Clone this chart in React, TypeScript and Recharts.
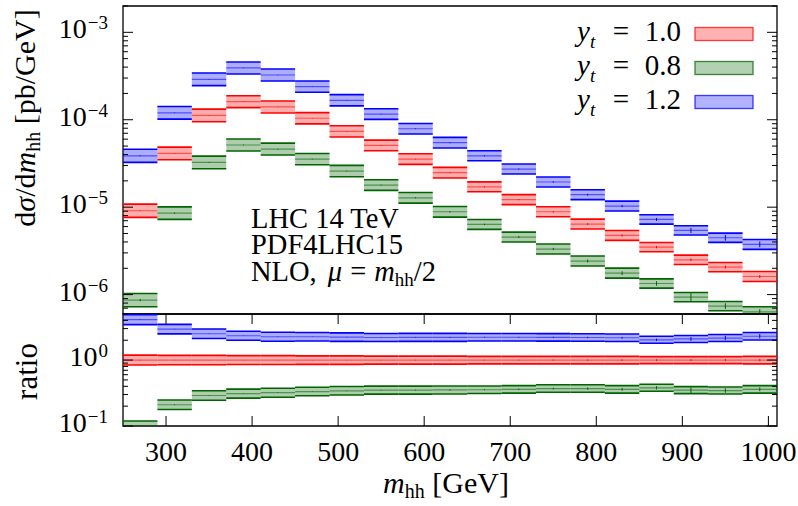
import React from 'react';
import { ComposedChart, Bar, XAxis, YAxis, ReferenceArea, Legend } from 'recharts';

// m_hh bin edges [GeV]
const binEdges = [250, 290, 330, 370, 410, 450, 490, 530, 570, 610, 650, 690, 730, 770, 810, 850, 890, 930, 970, 1010];

// dsigma/dm_hh [pb/GeV], central values
const sigmaYt10 = [9.1e-6, 4.12e-5, 1.12e-4, 1.61e-4, 1.40e-4, 1.04e-4, 7.36e-5, 5.09e-5, 3.55e-5, 2.48e-5, 1.71e-5, 1.22e-5, 8.86e-6, 6.41e-6, 4.75e-6, 3.49e-6, 2.50e-6, 2.06e-6, 1.61e-6];
const sigmaYt08 = [8.65e-7, 8.55e-6, 3.25e-5, 5.14e-5, 4.62e-5, 3.55e-5, 2.59e-5, 1.79e-5, 1.28e-5, 8.86e-6, 6.35e-6, 4.55e-6, 3.32e-6, 2.42e-6, 1.76e-6, 1.34e-6, 9.36e-7, 7.38e-7, 6.36e-7];
const sigmaYt12 = [3.87e-5, 1.20e-4, 2.90e-4, 3.91e-4, 3.25e-4, 2.39e-4, 1.67e-4, 1.16e-4, 7.89e-5, 5.46e-5, 3.87e-5, 2.73e-5, 1.94e-5, 1.39e-5, 1.03e-5, 7.24e-6, 5.42e-6, 4.47e-6, 3.75e-6];

// ratio to y_t = 1.0
const ratioYt10 = [1, 1, 1, 1, 1, 1, 1, 1, 1, 1, 1, 1, 1, 1, 1, 1, 1, 1, 1];
const ratioYt08 = [0.1, 0.21, 0.29, 0.31, 0.32, 0.333, 0.342, 0.35, 0.35, 0.352, 0.355, 0.36, 0.37, 0.37, 0.36, 0.38, 0.35, 0.345, 0.36];
const ratioYt12 = [4.1, 2.95, 2.51, 2.34, 2.26, 2.26, 2.23, 2.2, 2.21, 2.21, 2.22, 2.22, 2.21, 2.2, 2.18, 2.03, 2.09, 2.16, 2.3];

// relative scale uncertainty (band half width) per bin
const scaleUnc = [0.19, 0.18, 0.18, 0.17, 0.17, 0.16, 0.16, 0.15, 0.15, 0.15, 0.14, 0.14, 0.14, 0.14, 0.14, 0.13, 0.13, 0.13, 0.14];

// relative statistical errors per bin
const statYt10 = [0.01, 0.008, 0.006, 0.006, 0.006, 0.006, 0.007, 0.008, 0.01, 0.012, 0.015, 0.015, 0.02, 0.025, 0.03, 0.03, 0.035, 0.04, 0.04];
const statYt08 = [0.03, 0.015, 0.01, 0.01, 0.01, 0.01, 0.01, 0.012, 0.015, 0.02, 0.02, 0.025, 0.03, 0.04, 0.05, 0.06, 0.11, 0.08, 0.07];
const statYt12 = [0.01, 0.008, 0.006, 0.006, 0.006, 0.006, 0.007, 0.008, 0.01, 0.012, 0.015, 0.015, 0.02, 0.025, 0.03, 0.04, 0.07, 0.08, 0.08];

const xTicks = [300, 400, 500, 600, 700, 800, 900, 1000];
const topTicks = [6e-7, 7e-7, 8e-7, 9e-7, 1e-6, 2e-6, 3e-6, 4e-6, 5e-6, 6e-6, 7e-6, 8e-6, 9e-6, 1e-5, 2e-5, 3e-5, 4e-5, 5e-5, 6e-5, 7e-5, 8e-5, 9e-5, 1e-4, 2e-4, 3e-4, 4e-4, 5e-4, 6e-4, 7e-4, 8e-4, 9e-4, 1e-3, 2e-3];
const ratioTicks = [0.1, 0.2, 0.3, 0.4, 0.5, 0.6, 0.7, 0.8, 0.9, 1, 2, 3, 4, 5];
const topDomain = [6e-7, 2e-3];
const ratioDomain = [0.1, 5];
const xDomain = [binEdges[0], binEdges[binEdges.length - 1]];

const series = [
  { key: 'yt10', label: '1.0', color: '#ff0000', sigma: sigmaYt10, ratio: ratioYt10, stat: statYt10 },
  { key: 'yt08', label: '0.8', color: '#006400', sigma: sigmaYt08, ratio: ratioYt08, stat: statYt08 },
  { key: 'yt12', label: '1.2', color: '#0000ff', sigma: sigmaYt12, ratio: ratioYt12, stat: statYt12 },
];

const FONT = "'Liberation Serif', 'Times New Roman', serif";
const W = 798;
const PLOT_L = 123;
const PLOT_R = 777;
const TOP_H = 316;
const BOT_TOP = 312;
const BOT_H = 194;
const X_AXIS_H = 80;
const BOT_MT = 2;
const BOT_PLOT_BOTTOM = BOT_H - X_AXIS_H;
const BIN_W = (PLOT_R - PLOT_L) / (binEdges.length - 1) - 0.02;

const buildRows = (pick: (s: typeof series[number]) => number[]) =>
  binEdges.slice(0, -1).map((lo, i) => {
    const row: any = { mid: (lo + binEdges[i + 1]) / 2, unc: scaleUnc[i] };
    series.forEach(s => {
      row[s.key] = pick(s)[i];
      row[s.key + 'Stat'] = s.stat[i];
    });
    return row;
  });

const topData = buildRows(s => s.sigma);
const ratioData = buildRows(s => s.ratio);

const isPow10 = (v: number) => Math.abs(Math.log10(v) - Math.round(Math.log10(v))) < 1e-9;
const expLabel = (v: number) => {
  const e = Math.round(Math.log10(v));
  return e < 0 ? `\u2212${-e}` : `${e}`;
};

// inward ticks on both sides, label only at powers of ten
const LogTick = (props: any) => {
  const y = props.payload?.coordinate ?? props.y;
  const v = props.payload.value;
  const major = isPow10(v);
  const len = major ? 10 : 5;
  return (
    <g>
      <line x1={PLOT_L} x2={PLOT_L + len} y1={y} y2={y} stroke="#000" strokeWidth={1} />
      <line x1={PLOT_R - len} x2={PLOT_R} y1={y} y2={y} stroke="#000" strokeWidth={1} />
      {major && (
        <text x={108} y={y + 6} textAnchor="end" fontFamily={FONT} fontSize={28} fill="#000">
          10<tspan dx={1} dy={-9} fontSize={19}>{expLabel(v)}</tspan>
        </text>
      )}
    </g>
  );
};

const XTick = (props: any) => {
  const x = props.payload?.coordinate ?? props.x;
  return (
    <g>
      <line x1={x} x2={x} y1={BOT_PLOT_BOTTOM} y2={BOT_PLOT_BOTTOM - 10} stroke="#000" strokeWidth={1} />
      <line x1={x} x2={x} y1={BOT_MT} y2={BOT_MT + 10} stroke="#000" strokeWidth={1} />
      <text x={x} y={BOT_PLOT_BOTTOM + 35} textAnchor="middle" fontFamily={FONT} fontSize={28} fill="#000">
        {props.payload.value}
      </text>
    </g>
  );
};

// band with edge lines, central line and stat error tick
const binShape = (color: string, key: string) => (p: any) => {
  const { x, y, width, height, payload } = p;
  if (height == null || !isFinite(y)) return <g />;
  const u = payload.unc;
  const s = payload[key + 'Stat'];
  const half = height / 2;
  const cy = y + half;
  const sPx = (half * Math.log(1 + s)) / Math.log(1 + u);
  const cx = x + width / 2;
  return (
    <g>
      <rect x={x} y={y} width={width} height={height} fill={color} fillOpacity={0.32} />
      <line x1={x} x2={x + width} y1={y} y2={y} stroke={color} strokeWidth={1.6} />
      <line x1={x} x2={x + width} y1={y + height} y2={y + height} stroke={color} strokeWidth={1.6} />
      <line x1={x} x2={x + width} y1={cy} y2={cy} stroke={color} strokeOpacity={0.55} strokeWidth={1.2} />
      <line x1={cx} x2={cx} y1={cy - sPx} y2={cy + sPx} stroke={color} strokeWidth={1} />
    </g>
  );
};

const LegendBox = () => (
  <svg width={W} height={120} style={{ display: 'block' }}>
    {series.map((s, i) => {
      const base = 40.5 + 34 * i;
      return (
        <g key={s.key} fontFamily={FONT} fill="#000">
          <text x={577} y={base} fontSize={29} fontStyle="italic">y</text>
          <text x={590} y={base + 7} fontSize={19} fontStyle="italic">t</text>
          <text x={621} y={base} fontSize={29} textAnchor="middle">=</text>
          <text x={681} y={base} fontSize={29} textAnchor="end">{s.label}</text>
          <rect x={695} y={base - 13} width={58} height={13} fill={s.color} fillOpacity={0.3}
            stroke={s.color} strokeOpacity={0.75} strokeWidth={1.3} />
        </g>
      );
    })}
  </svg>
);

// one numeric x axis per series so the bands overlay instead of sitting side by side
const xAxes = (showTicks: boolean) =>
  series.map((s, i) =>
    showTicks && i === 0 ? (
      <XAxis
        key={s.key}
        xAxisId={`x${s.key}`}
        dataKey="mid"
        type="number"
        domain={xDomain}
        allowDataOverflow
        ticks={xTicks}
        interval={0}
        height={X_AXIS_H}
        axisLine={false}
        tickLine={false}
        tick={XTick}
        label={{
          content: () => (
            <text x={446} y={181} textAnchor="middle" fontFamily={FONT} fontSize={30} fill="#000">
              <tspan fontStyle="italic">m</tspan>
              <tspan fontSize={20} dy={5}>hh</tspan>
              <tspan dy={-5}> [GeV]</tspan>
            </text>
          ),
        }}
      />
    ) : (
      <XAxis key={s.key} xAxisId={`x${s.key}`} dataKey="mid" type="number" domain={xDomain} allowDataOverflow hide />
    )
  );

const bars = (chart: string) =>
  series.map(s => (
    <Bar
      key={chart + s.key}
      xAxisId={`x${s.key}`}
      yAxisId="y"
      dataKey={(d: any) => [d[s.key] / (1 + d.unc), d[s.key] * (1 + d.unc)]}
      shape={binShape(s.color, s.key)}
      barSize={BIN_W}
      isAnimationActive={false}
    />
  ));

const frame = (yDomain: number[]) => (
  <ReferenceArea xAxisId={`x${series[0].key}`} yAxisId="y" x1={xDomain[0]} x2={xDomain[1]}
    y1={yDomain[0]} y2={yDomain[1]} fill="none" fillOpacity={0} stroke="#000" strokeWidth={1.3} ifOverflow="visible" />
);

export default function App() {
  return (
    <div style={{ position: 'absolute', left: 0, top: 0, width: W, height: 506, background: '#fff', fontFamily: FONT }}>
      <div style={{ position: 'absolute', left: 0, top: 0 }}>
        <ComposedChart width={W} height={TOP_H} data={topData} margin={{ top: 6, right: W - PLOT_R, bottom: 2, left: 0 }}
          barCategoryGap={0} barGap={0}>
          {xAxes(false)}
          <YAxis
            yAxisId="y"
            type="number"
            scale="log"
            domain={topDomain}
            allowDataOverflow
            ticks={topTicks}
            interval={0}
            width={PLOT_L}
            axisLine={false}
            tickLine={false}
            tick={LogTick}
            label={{
              content: () => (
                <text transform="rotate(-90 35 118)" x={35} y={118} textAnchor="middle" fontFamily={FONT} fontSize={30} fill="#000">
                  d<tspan fontStyle="italic">σ</tspan>/d<tspan fontStyle="italic">m</tspan>
                  <tspan fontSize={20} dy={5}>hh</tspan>
                  <tspan dy={-5}> [pb/GeV]</tspan>
                </text>
              ),
            }}
          />
          {bars('top')}
          {frame(topDomain)}
          <Legend layout="horizontal" verticalAlign="middle" align="center"
            wrapperStyle={{ top: 0, left: 0, width: W, height: 120 }} content={() => <LegendBox />} />
        </ComposedChart>
      </div>

      <div style={{ position: 'absolute', left: 0, top: BOT_TOP }}>
        <ComposedChart width={W} height={BOT_H} data={ratioData} margin={{ top: BOT_MT, right: W - PLOT_R, bottom: 0, left: 0 }}
          barCategoryGap={0} barGap={0}>
          {xAxes(true)}
          <YAxis
            yAxisId="y"
            type="number"
            scale="log"
            domain={ratioDomain}
            allowDataOverflow
            ticks={ratioTicks}
            interval={0}
            width={PLOT_L}
            axisLine={false}
            tickLine={false}
            tick={LogTick}
            label={{
              content: () => (
                <text transform={`rotate(-90 36.5 ${371.5 - BOT_TOP})`} x={36.5} y={371.5 - BOT_TOP} textAnchor="middle"
                  fontFamily={FONT} fontSize={31} fill="#000">ratio</text>
              ),
            }}
          />
          {bars('ratio')}
          {frame(ratioDomain)}
        </ComposedChart>
      </div>

      <svg width={W} height={506} style={{ position: 'absolute', left: 0, top: 0, pointerEvents: 'none' }}>
        <g fontFamily={FONT} fontSize={28.5} fill="#000">
          <text x={251} y={227.5}>LHC 14 TeV</text>
          <text x={251} y={254}>PDF4LHC15</text>
          <text x={251} y={281}>
            NLO, <tspan fontStyle="italic" dx={4}>μ</tspan>
            <tspan dx={8}>=</tspan>
            <tspan fontStyle="italic" dx={8}>m</tspan>
            <tspan fontSize={19} dy={5}>hh</tspan>
            <tspan dy={-5}>/2</tspan>
          </text>
        </g>
      </svg>
    </div>
  );
}
